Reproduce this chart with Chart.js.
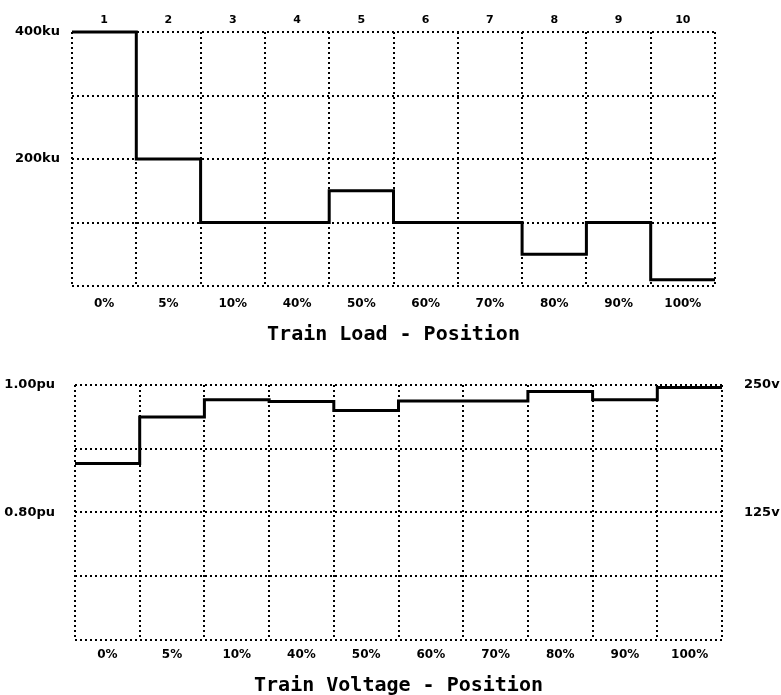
<!DOCTYPE html>
<html>
<head>
<meta charset="utf-8">
<script src="https://cdn.jsdelivr.net/npm/chart.js@4"></script>
<style>
  body { margin: 0; background: #fff; }
  canvas { position: absolute; left: 0; }
  #loadChart { top: 0; }
  #voltChart { top: 350px; }
</style>
</head>
<body>
<canvas id="loadChart" width="781" height="350"></canvas>
<canvas id="voltChart" width="781" height="345"></canvas>
<script>
const positionLabels = ["0%", "5%", "10%", "40%", "50%", "60%", "70%", "80%", "90%", "100%"];
const columnNumbers = ["1", "2", "3", "4", "5", "6", "7", "8", "9", "10"];

// train load per position (ku)
const loadValues = [400, 200, 100, 100, 150, 100, 100, 50, 100, 10];
const loadTickValues = [400, 200];
const loadTickLabels = ["400ku", "200ku"];

// train voltage per position (pu)
const voltageValues = [0.877, 0.95, 0.977, 0.974, 0.96, 0.975, 0.975, 0.99, 0.977, 0.996];
const voltTickValues = [1.0, 0.8];
const puTickLabels = ["1.00pu", "0.80pu"];
const voltTickLabels = ["250v", "125v"];

const tickFont = { family: "DejaVu Sans", weight: "bold", size: 12 };
const yTickFont = { family: "DejaVu Sans", weight: "bold", size: 13 };
const titleFont = { family: "DejaVu Sans Mono", weight: "bold", size: 20 };
const dotted = [2, 3];

function stepPoints(values) {
  const pts = values.map((v, i) => ({ x: i, y: v }));
  pts.push({ x: values.length, y: values[values.length - 1] });
  return pts;
}

function pickLabel(value, keys, labels) {
  const i = keys.findIndex(k => Math.abs(k - value) < 1e-6);
  return i >= 0 ? labels[i] : "";
}

function stepDataset(values, yAxisID) {
  return {
    data: stepPoints(values),
    xAxisID: "xd",
    yAxisID: yAxisID,
    stepped: "before",
    borderColor: "#000",
    borderWidth: 3,
    pointRadius: 0,
    fill: false,
    clip: false
  };
}

function positionAxis(title, height, tickPad, titlePadBottom) {
  return {
    type: "category",
    labels: positionLabels,
    position: "bottom",
    offset: true,
    grid: { offset: true, color: "#000", lineWidth: 2, drawTicks: false },
    border: { display: false, dash: dotted },
    ticks: { color: "#000", font: tickFont, padding: tickPad },
    title: { display: true, text: title, color: "#000", font: titleFont, padding: { top: 0, bottom: titlePadBottom } },
    afterFit: (scale) => { scale.height = height; }
  };
}

new Chart(document.getElementById("loadChart"), {
  type: "line",
  data: { datasets: [stepDataset(loadValues, "y")] },
  options: {
    responsive: false,
    animation: false,
    devicePixelRatio: 1,
    layout: { padding: { left: 0, right: 66, top: 0, bottom: 0 } },
    plugins: { legend: { display: false }, tooltip: { enabled: false } },
    scales: {
      xd: { type: "linear", min: 0, max: 10, display: false },
      x: positionAxis("Train Load - Position", 64, 11, 3),
      xt: {
        type: "category",
        labels: columnNumbers,
        position: "top",
        offset: true,
        grid: { display: false },
        border: { display: false },
        ticks: { color: "#000", font: { family: "DejaVu Sans", weight: "bold", size: 11 }, padding: -3 },
        afterFit: (scale) => { scale.height = 32; }
      },
      y: {
        min: 0,
        max: 400,
        ticks: {
          stepSize: 100,
          color: "#000",
          font: yTickFont,
          padding: 12,
          callback: (v) => pickLabel(v, loadTickValues, loadTickLabels)
        },
        grid: { color: "#000", lineWidth: 2, drawTicks: false },
        border: { display: false, dash: dotted },
        afterFit: (scale) => { scale.width = 72; }
      }
    }
  }
});

new Chart(document.getElementById("voltChart"), {
  type: "line",
  data: { datasets: [stepDataset(voltageValues, "y")] },
  options: {
    responsive: false,
    animation: false,
    devicePixelRatio: 1,
    layout: { padding: { left: 0, right: 0, top: 35, bottom: 0 } },
    plugins: { legend: { display: false }, tooltip: { enabled: false } },
    scales: {
      xd: { type: "linear", min: 0, max: 10, display: false },
      x: positionAxis("Train Voltage - Position", 55, 8, -3),
      y: {
        min: 0.6,
        max: 1.0,
        ticks: {
          stepSize: 0.1,
          color: "#000",
          font: yTickFont,
          padding: 20,
          callback: (v) => pickLabel(v, voltTickValues, puTickLabels)
        },
        grid: { color: "#000", lineWidth: 2, drawTicks: false },
        border: { display: false, dash: dotted },
        afterFit: (scale) => { scale.width = 75; }
      },
      y2: {
        position: "right",
        min: 0.6,
        max: 1.0,
        ticks: {
          stepSize: 0.1,
          color: "#000",
          font: yTickFont,
          padding: 14,
          callback: (v) => pickLabel(v, voltTickValues, voltTickLabels)
        },
        grid: { display: false },
        border: { display: false },
        afterFit: (scale) => { scale.width = 59; }
      }
    }
  }
});
</script>
</body>
</html>
